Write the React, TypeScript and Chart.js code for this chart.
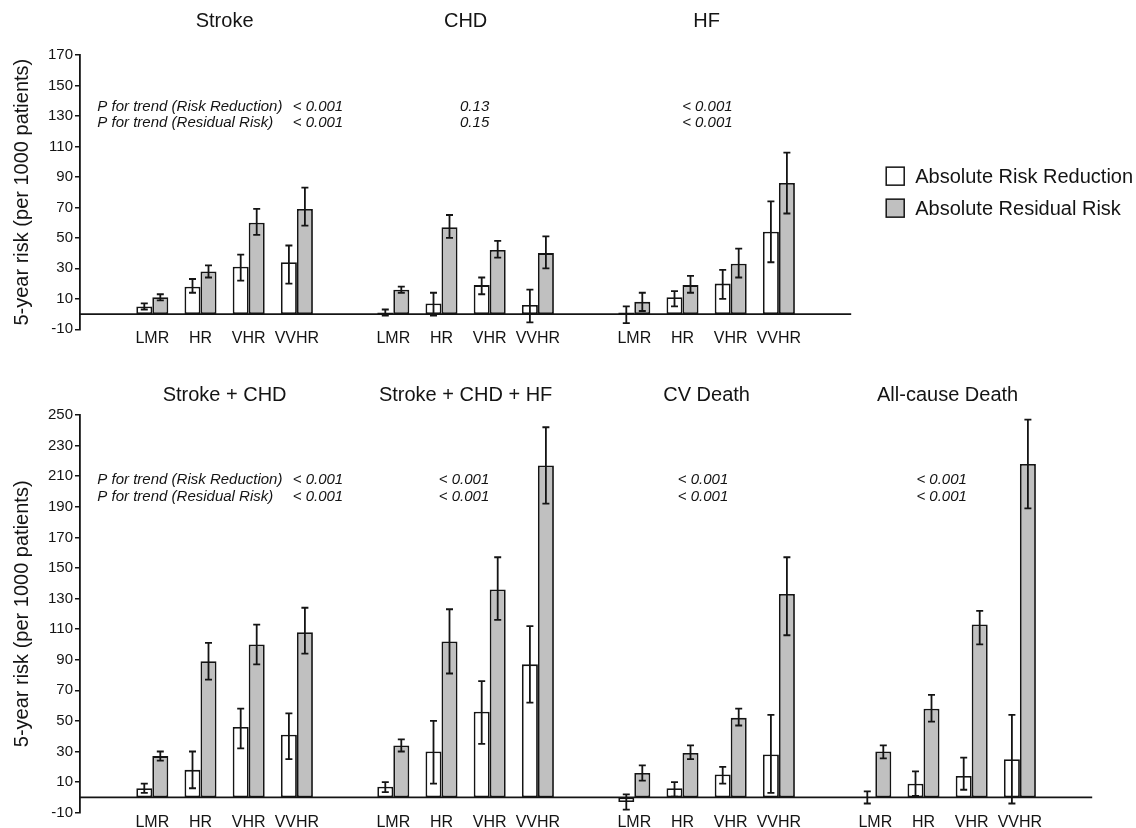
import React, { useEffect, useRef } from "react";
import { Chart, registerables } from "chart.js";

Chart.register(...registerables);

// ---------------- data ----------------
const RISK_GROUPS = ["LMR", "HR", "VHR", "VVHR"];
const SERIES_LABELS = ["Absolute Risk Reduction", "Absolute Residual Risk"];
const Y_TITLE = "5-year risk (per 1000 patients)";
const TOP_TICKS = [-10, 10, 30, 50, 70, 90, 110, 130, 150, 170];
const BOTTOM_TICKS = [-10, 10, 30, 50, 70, 90, 110, 130, 150, 170, 190, 210, 230, 250];

// Stroke
const STROKE_RR = [5, 18, 31, 34];
const STROKE_RR_LO = [3, 14, 22, 20];
const STROKE_RR_HI = [7, 23, 39, 45];
const STROKE_RES = [11, 28, 60, 69];
const STROKE_RES_LO = [9, 24, 52, 58];
const STROKE_RES_HI = [13, 32, 69, 83];
// CHD
const CHD_RR = [1, 7, 19, 6];
const CHD_RR_LO = [-1, -1, 13, -5.5];
const CHD_RR_HI = [3, 14, 24, 16];
const CHD_RES = [16, 57, 42, 40];
const CHD_RES_LO = [14, 50, 37, 30];
const CHD_RES_HI = [18, 65, 48, 51];
// HF
const HF_RR = [1, 11, 20, 54];
const HF_RR_LO = [-6, 5, 10, 34];
const HF_RR_HI = [5, 15, 29, 74];
const HF_RES = [8, 19, 33, 86];
const HF_RES_LO = [2, 14, 24, 66];
const HF_RES_HI = [14, 25, 43, 106];
// Stroke + CHD
const SC_RR = [6, 18, 46, 41];
const SC_RR_LO = [3, 6, 32, 25];
const SC_RR_HI = [9, 30, 58, 55];
const SC_RES = [27, 89, 100, 108];
const SC_RES_LO = [24, 77, 87, 94];
const SC_RES_HI = [30, 101, 113, 124];
// Stroke + CHD + HF
const SCH_RR = [7, 30, 56, 87];
const SCH_RR_LO = [3.5, 9, 35, 62];
const SCH_RR_HI = [10, 50, 76, 112];
const SCH_RES = [34, 102, 136, 217];
const SCH_RES_LO = [30, 81, 116, 192];
const SCH_RES_HI = [38, 123, 157, 242];
// CV Death
const CVD_RR = [-3, 6, 15, 28];
const CVD_RR_LO = [-8, 0.5, 9, 3];
const CVD_RR_HI = [2, 10, 20, 54];
const CVD_RES = [16, 29, 52, 133];
const CVD_RES_LO = [11, 25, 47, 106];
const CVD_RES_HI = [21, 34, 58, 157];
// All-cause Death
const ACD_RR = [0, 9, 14, 25];
const ACD_RR_LO = [-4, 1, 5, -4];
const ACD_RR_HI = [4, 17, 26, 54];
const ACD_RES = [30, 58, 113, 218];
const ACD_RES_LO = [25.5, 49.5, 100, 189];
const ACD_RES_HI = [34, 67, 122, 247];

// P for trend texts
const P_LABEL_1 = "P for trend (Risk Reduction)";
const P_LABEL_2 = "P for trend (Residual Risk)";
const TOP_P_RR = ["< 0.001", "0.13", "< 0.001"];
const TOP_P_RES = ["< 0.001", "0.15", "< 0.001"];
const BOTTOM_P_RR = ["< 0.001", "< 0.001", "< 0.001", "< 0.001"];
const BOTTOM_P_RES = ["< 0.001", "< 0.001", "< 0.001", "< 0.001"];

// ---------------- layout / style ----------------
const FONT = '"Liberation Sans", Arial, Helvetica, sans-serif';
const INK = "#141414";
const GREY = "#c0c0c0";
const LINE_W = 1.8;

type Panel = {
  title: string;
  rr: number[]; rrLo: number[]; rrHi: number[];
  res: number[]; resLo: number[]; resHi: number[];
  pRR: string; pRes: string; pAt: number;
};

const TOP_PANELS: Panel[] = [
  { title: "Stroke", rr: STROKE_RR, rrLo: STROKE_RR_LO, rrHi: STROKE_RR_HI, res: STROKE_RES, resLo: STROKE_RES_LO, resHi: STROKE_RES_HI, pRR: TOP_P_RR[0], pRes: TOP_P_RES[0], pAt: 4.96 },
  { title: "CHD", rr: CHD_RR, rrLo: CHD_RR_LO, rrHi: CHD_RR_HI, res: CHD_RES, resLo: CHD_RES_LO, resHi: CHD_RES_HI, pRR: TOP_P_RR[1], pRes: TOP_P_RES[1], pAt: 7.99 },
  { title: "HF", rr: HF_RR, rrLo: HF_RR_LO, rrHi: HF_RR_HI, res: HF_RES, resLo: HF_RES_LO, resHi: HF_RES_HI, pRR: TOP_P_RR[2], pRes: TOP_P_RES[2], pAt: 13.04 },
];

const BOTTOM_PANELS: Panel[] = [
  { title: "Stroke + CHD", rr: SC_RR, rrLo: SC_RR_LO, rrHi: SC_RR_HI, res: SC_RES, resLo: SC_RES_LO, resHi: SC_RES_HI, pRR: BOTTOM_P_RR[0], pRes: BOTTOM_P_RES[0], pAt: 4.96 },
  { title: "Stroke + CHD + HF", rr: SCH_RR, rrLo: SCH_RR_LO, rrHi: SCH_RR_HI, res: SCH_RES, resLo: SCH_RES_LO, resHi: SCH_RES_HI, pRR: BOTTOM_P_RR[1], pRes: BOTTOM_P_RES[1], pAt: 7.99 },
  { title: "CV Death", rr: CVD_RR, rrLo: CVD_RR_LO, rrHi: CVD_RR_HI, res: CVD_RES, resLo: CVD_RES_LO, resHi: CVD_RES_HI, pRR: BOTTOM_P_RR[2], pRes: BOTTOM_P_RES[2], pAt: 12.95 },
  { title: "All-cause Death", rr: ACD_RR, rrLo: ACD_RR_LO, rrHi: ACD_RR_HI, res: ACD_RES, resLo: ACD_RES_LO, resHi: ACD_RES_HI, pRR: BOTTOM_P_RR[3], pRes: BOTTOM_P_RES[3], pAt: 17.9 },
];

type RowLayout = {
  height: number; yMax: number; ticks: number[];
  padTop: number; padBottom: number; padRight: number; xAxisH: number;
  titleY: number; pY1: number; pY2: number; legend: boolean;
};

const TOP_LAYOUT: RowLayout = {
  height: 362, yMax: 170, ticks: TOP_TICKS,
  padTop: 55, padBottom: 12.7, padRight: 284.8, xAxisH: 20,
  titleY: 21, pY1: 106.7, pY2: 123.3, legend: true,
};
const BOTTOM_LAYOUT: RowLayout = {
  height: 466, yMax: 250, ticks: BOTTOM_TICKS,
  padTop: 53, padBottom: 0, padRight: 43.8, xAxisH: 15.3,
  titleY: 33, pY1: 118, pY2: 134.7, legend: false,
};

function buildData(panels: Panel[]) {
  const labels: string[] = [""];
  const rr: (number | null)[] = [null];
  const rrLo: (number | null)[] = [null];
  const rrHi: (number | null)[] = [null];
  const res: (number | null)[] = [null];
  const resLo: (number | null)[] = [null];
  const resHi: (number | null)[] = [null];
  panels.forEach((p) => {
    labels.push(...RISK_GROUPS, "");
    rr.push(...p.rr, null);
    rrLo.push(...p.rrLo, null);
    rrHi.push(...p.rrHi, null);
    res.push(...p.res, null);
    resLo.push(...p.resLo, null);
    resHi.push(...p.resHi, null);
  });
  return {
    labels,
    datasets: [
      { label: SERIES_LABELS[0], data: rr, errLo: rrLo, errHi: rrHi, backgroundColor: "#ffffff", borderColor: INK, borderWidth: LINE_W, borderSkipped: false },
      { label: SERIES_LABELS[1], data: res, errLo: resLo, errHi: resHi, backgroundColor: GREY, borderColor: INK, borderWidth: LINE_W, borderSkipped: false },
    ],
  };
}

const zeroLinePlugin = {
  id: "zeroLine",
  afterDatasetsDraw(chart: any) {
    const { ctx, chartArea } = chart;
    const y0 = chart.scales.y.getPixelForValue(0);
    ctx.save();
    ctx.strokeStyle = INK;
    ctx.lineWidth = LINE_W;
    ctx.beginPath();
    ctx.moveTo(chartArea.left, y0);
    ctx.lineTo(chartArea.right, y0);
    ctx.stroke();
    ctx.restore();
  },
};

const errorBarPlugin = {
  id: "errorBars",
  afterDatasetsDraw(chart: any) {
    const { ctx } = chart;
    const ys = chart.scales.y;
    chart.data.datasets.forEach((ds: any, di: number) => {
      const meta = chart.getDatasetMeta(di);
      meta.data.forEach((el: any, i: number) => {
        const lo = ds.errLo[i];
        const hi = ds.errHi[i];
        if (lo == null || hi == null) return;
        const x = el.x;
        const yl = ys.getPixelForValue(lo);
        const yh = ys.getPixelForValue(hi);
        const cap = 3.5;
        ctx.save();
        ctx.strokeStyle = INK;
        ctx.lineWidth = LINE_W;
        ctx.beginPath();
        ctx.moveTo(x, yl);
        ctx.lineTo(x, yh);
        ctx.moveTo(x - cap, yl);
        ctx.lineTo(x + cap, yl);
        ctx.moveTo(x - cap, yh);
        ctx.lineTo(x + cap, yh);
        ctx.stroke();
        ctx.restore();
      });
    });
  },
};

function makeAnnotationPlugin(panels: Panel[], lay: RowLayout) {
  return {
    id: "panelText",
    afterDraw(chart: any) {
      const { ctx, chartArea } = chart;
      const xs = chart.scales.x;
      ctx.save();
      ctx.fillStyle = INK;
      // panel titles
      ctx.font = `20px ${FONT}`;
      ctx.textAlign = "center";
      ctx.textBaseline = "middle";
      panels.forEach((p, k) => {
        const cx = xs.getPixelForValue(1 + k * 5 + 1.5);
        ctx.fillText(p.title, cx, lay.titleY);
      });
      // p for trend
      ctx.font = `italic 15px ${FONT}`;
      ctx.textAlign = "left";
      ctx.fillText(P_LABEL_1, xs.getPixelForValue(-0.14), lay.pY1);
      ctx.fillText(P_LABEL_2, xs.getPixelForValue(-0.14), lay.pY2);
      ctx.textAlign = "right";
      panels.forEach((p) => {
        const rx = xs.getPixelForValue(p.pAt);
        ctx.fillText(p.pRR, rx, lay.pY1);
        ctx.fillText(p.pRes, rx, lay.pY2);
      });
      // legend
      if (lay.legend) {
        const midY = (chartArea.top + chartArea.bottom) / 2;
        const boxX = chartArea.right + 35;
        const rows = [midY - 16, midY + 16];
        chart.data.datasets.forEach((ds: any, i: number) => {
          const cy = rows[i];
          ctx.fillStyle = ds.backgroundColor;
          ctx.fillRect(boxX, cy - 9, 18, 18);
          ctx.strokeStyle = INK;
          ctx.lineWidth = 1.5;
          ctx.strokeRect(boxX, cy - 9, 18, 18);
          ctx.fillStyle = INK;
          ctx.font = `20px ${FONT}`;
          ctx.textAlign = "left";
          ctx.textBaseline = "middle";
          ctx.fillText(ds.label, boxX + 29, cy + 1);
        });
      }
      ctx.restore();
    },
  };
}

function buildConfig(panels: Panel[], lay: RowLayout): any {
  return {
    type: "bar",
    data: buildData(panels),
    plugins: [zeroLinePlugin, errorBarPlugin, makeAnnotationPlugin(panels, lay)],
    options: {
      responsive: false,
      maintainAspectRatio: false,
      animation: false,
      layout: { padding: { left: 0, right: lay.padRight, top: lay.padTop, bottom: lay.padBottom } },
      datasets: { bar: { categoryPercentage: 0.664, barPercentage: 1 } },
      plugins: { legend: { display: false }, tooltip: { enabled: false }, title: { display: false } },
      scales: {
        x: {
          type: "category",
          offset: true,
          grid: { display: false, drawTicks: false },
          border: { display: false },
          ticks: { font: { family: FONT, size: 16 }, color: INK, padding: 0, autoSkip: false, maxRotation: 0, minRotation: 0 },
          afterFit: (s: any) => { s.height = lay.xAxisH; },
        },
        y: {
          type: "linear",
          min: -10,
          max: lay.yMax,
          afterBuildTicks: (s: any) => { s.ticks = lay.ticks.map((v) => ({ value: v })); },
          afterFit: (s: any) => { s.width = 80; },
          border: { display: true, color: INK, width: LINE_W },
          grid: { drawOnChartArea: false, drawTicks: true, tickLength: 5, color: INK, lineWidth: 1.5 },
          ticks: { font: { family: FONT, size: 15 }, color: INK, padding: 2 },
          title: { display: true, text: Y_TITLE, font: { family: FONT, size: 20 }, color: INK, padding: { top: 10, bottom: 0 } },
        },
      },
    },
  };
}

export default function App() {
  const topRef = useRef<HTMLCanvasElement>(null);
  const botRef = useRef<HTMLCanvasElement>(null);

  useEffect(() => {
    const c1 = new Chart(topRef.current as HTMLCanvasElement, buildConfig(TOP_PANELS, TOP_LAYOUT));
    const c2 = new Chart(botRef.current as HTMLCanvasElement, buildConfig(BOTTOM_PANELS, BOTTOM_LAYOUT));
    return () => {
      c1.destroy();
      c2.destroy();
    };
  }, []);

  return (
    <div style={{ position: "fixed", left: 0, top: 0, width: 1136, height: 828, background: "#ffffff", overflow: "hidden" }}>
      <canvas
        ref={topRef}
        width={1136}
        height={TOP_LAYOUT.height}
        style={{ position: "absolute", left: 0, top: 0, width: 1136, height: TOP_LAYOUT.height }}
      />
      <canvas
        ref={botRef}
        width={1136}
        height={BOTTOM_LAYOUT.height}
        style={{ position: "absolute", left: 0, top: TOP_LAYOUT.height, width: 1136, height: BOTTOM_LAYOUT.height }}
      />
    </div>
  );
}
